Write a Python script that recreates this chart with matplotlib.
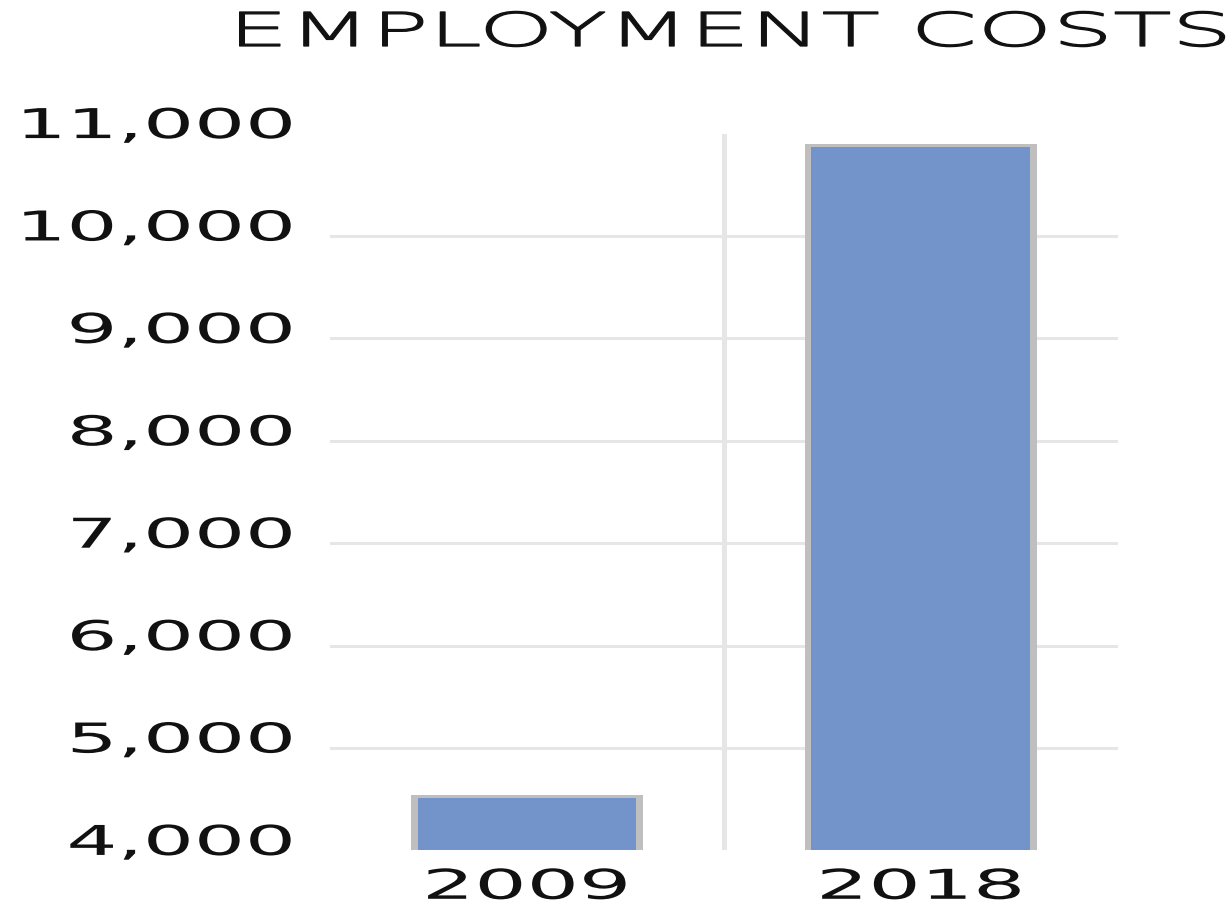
import matplotlib
matplotlib.use('Agg')
import matplotlib.pyplot as plt
from matplotlib.patheffects import AbstractPathEffect
from matplotlib.transforms import Affine2D, ScaledTranslation
from matplotlib.ticker import FixedLocator, FuncFormatter

# Costi del personale per anno
years = ['2009', '2018']
costs = [4510, 10870]
y_ticks = [4000, 5000, 6000, 7000, 8000, 9000, 10000, 11000]

BAR_BLUE = '#7394cb'
BAR_EDGE = '#bfbfbf'
GRID_GREY = '#e6e6e6'
TEXT_DARK = '#111111'


class StretchX(AbstractPathEffect):
    """Allarga il testo in orizzontale attorno a un punto di ancoraggio.
    Con outline > 0 aggiunge un contorno (in punti) per ispessire i tratti."""

    def __init__(self, factor, anchor='left', outline=0):
        super().__init__()
        self.factor = factor
        self.anchor = anchor
        self.outline = outline

    def draw_path(self, renderer, gc, tpath, affine, rgbFace=None):
        ext = tpath.get_extents()
        if self.anchor == 'right':
            x0 = ext.x1
        elif self.anchor == 'center':
            x0 = (ext.x0 + ext.x1) / 2
        else:
            x0 = 0
        stretch = Affine2D().translate(-x0, 0).scale(self.factor, 1).translate(x0, 0)
        trans = stretch + affine
        if self.outline:
            gc0 = renderer.new_gc()
            gc0.copy_properties(gc)
            gc0.set_linewidth(self.outline)
            gc0.set_foreground(rgbFace)
            gc0.set_joinstyle('round')
            renderer.draw_path(gc0, tpath, trans, rgbFace)
            gc0.restore()
        else:
            renderer.draw_path(gc, tpath, trans, rgbFace)


fig = plt.figure(figsize=(12.31, 9.05), dpi=100)
ax = fig.add_axes([0.268, 0.0603, 0.640, 0.7921])

x = list(range(len(years)))
# bordo grigio dietro le barre, poi la barra vera e propria
ax.bar(x, [c + 28 for c in costs], width=0.59, color=BAR_EDGE, zorder=2)
ax.bar(x, costs, width=0.555, color=BAR_BLUE, zorder=3)

ax.set_xlim(-0.5, 1.5)
ax.set_ylim(4000, 11000)
ax.yaxis.set_major_locator(FixedLocator(y_ticks))
ax.yaxis.set_major_formatter(FuncFormatter(lambda v, p: f'{v:,.0f}'))
ax.set_xticks(x)
ax.set_xticklabels(years)

ax.grid(axis='y', color=GRID_GREY, linewidth=2.2, zorder=0)
ax.axvline(0.5, color=GRID_GREY, linewidth=3.6, zorder=0.5)
ax.set_axisbelow(True)

for side in ['top', 'right', 'bottom', 'left']:
    ax.spines[side].set_visible(False)

ax.tick_params(axis='y', length=0, pad=26, labelsize=29.6, labelcolor=TEXT_DARK)
ax.tick_params(axis='x', length=0, pad=12.5, labelsize=29.6, labelcolor=TEXT_DARK)

# niente griglia sul primo e sull'ultimo valore
ticks = ax.yaxis.get_major_ticks()
ticks[0].gridline.set_visible(False)
ticks[-1].gridline.set_visible(False)

shift = ScaledTranslation(0, -0.045, fig.dpi_scale_trans)
for label in ax.get_yticklabels():
    label.set_va('baseline')
    label.set_transform(label.get_transform() + shift)
    label.set_path_effects([StretchX(1.95, 'right')])
for label in ax.get_xticklabels():
    label.set_path_effects([StretchX(2.0, 'center')])

fig.text(228 / 1231, 1 - 46 / 905, 'EMPLOYMENT COSTS', fontsize=33.6,
         fontweight='light', ha='left', va='baseline', color=TEXT_DARK,
         path_effects=[StretchX(2.05, 'left', outline=0.9)])

fig.savefig('out.png', dpi=100)
plt.close(fig)
